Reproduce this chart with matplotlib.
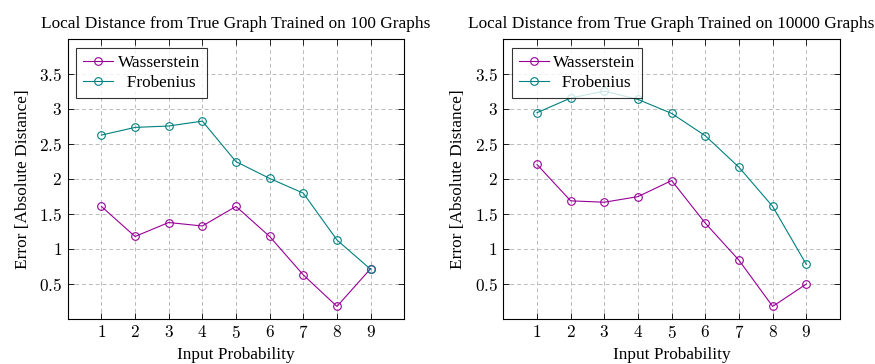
import matplotlib
matplotlib.use("Agg")
import matplotlib.pyplot as plt
import numpy as np

plt.rcParams['font.family'] = ['Liberation Serif', 'DejaVu Serif']
plt.rcParams['mathtext.fontset'] = 'cm'

probs = [1, 2, 3, 4, 5, 6, 7, 8, 9]

# trained on 100 graphs
wass_100 = [1.61, 1.18, 1.38, 1.33, 1.61, 1.18, 0.63, 0.18, 0.72]
frob_100 = [2.63, 2.74, 2.76, 2.83, 2.25, 2.01, 1.80, 1.13, 0.71]

# trained on 10000 graphs
wass_10000 = [2.21, 1.69, 1.67, 1.75, 1.98, 1.37, 0.84, 0.18, 0.50]
frob_10000 = [2.95, 3.16, 3.26, 3.14, 2.94, 2.62, 2.17, 1.61, 0.78]

titles = ["Local Distance from True Graph Trained on 100 Graphs",
          "Local Distance from True Graph Trained on 10000 Graphs"]
yticks = [0.5, 1, 1.5, 2, 2.5, 3, 3.5]

purple = '#990099'
teal = '#008080'
fs = 12.4

fig = plt.figure(figsize=(8.75, 3.64), dpi=100)
W, H = 875, 364
boxes = [(67.7, 39.3, 404.3, 319), (503.3, 39.3, 840, 319)]
data = [(wass_100, frob_100), (wass_10000, frob_10000)]

for (x0, y0, x1, y1), (wass, frob), title in zip(boxes, data, titles):
    ax = fig.add_axes([x0 / W, 1 - y1 / H, (x1 - x0) / W, (y1 - y0) / H])
    ax.plot(probs, wass, color=purple, lw=0.8, marker='o', ms=5.5, mfc='none', mew=0.8, label='Wasserstein')
    ax.plot(probs, frob, color=teal, lw=0.8, marker='o', ms=5.5, mfc='none', mew=0.8, label='  Frobenius')
    ax.set_xlim(0, 10)
    ax.set_ylim(0, 4)
    ax.set_xticks(probs)
    ax.set_xticklabels([f'${p}$' for p in probs])
    ax.set_yticks(yticks)
    ax.set_yticklabels([f'${t:g}$' for t in yticks])
    ax.tick_params(direction='in', top=True, right=True, labelsize=fs, length=4, width=0.6, pad=4)
    ax.grid(True, color='#bbbbbb', linestyle=(0, (4, 3)), linewidth=0.7)
    for s in ax.spines.values():
        s.set_linewidth(0.8)
    ax.set_xlabel("Input Probability", fontsize=fs, labelpad=4)
    ax.set_ylabel("Error [Absolute Distance]", fontsize=fs, labelpad=6)
    ax.set_title(title, fontsize=fs, pad=8)
    leg = ax.legend(loc='upper left', fontsize=fs, frameon=True, fancybox=False, edgecolor='black',
                    borderaxespad=0.5, handlelength=1.75, handletextpad=0.25, borderpad=0.4,
                    labelspacing=0.25)
    leg.get_frame().set_linewidth(0.8)

fig.savefig('out.png', dpi=100)
